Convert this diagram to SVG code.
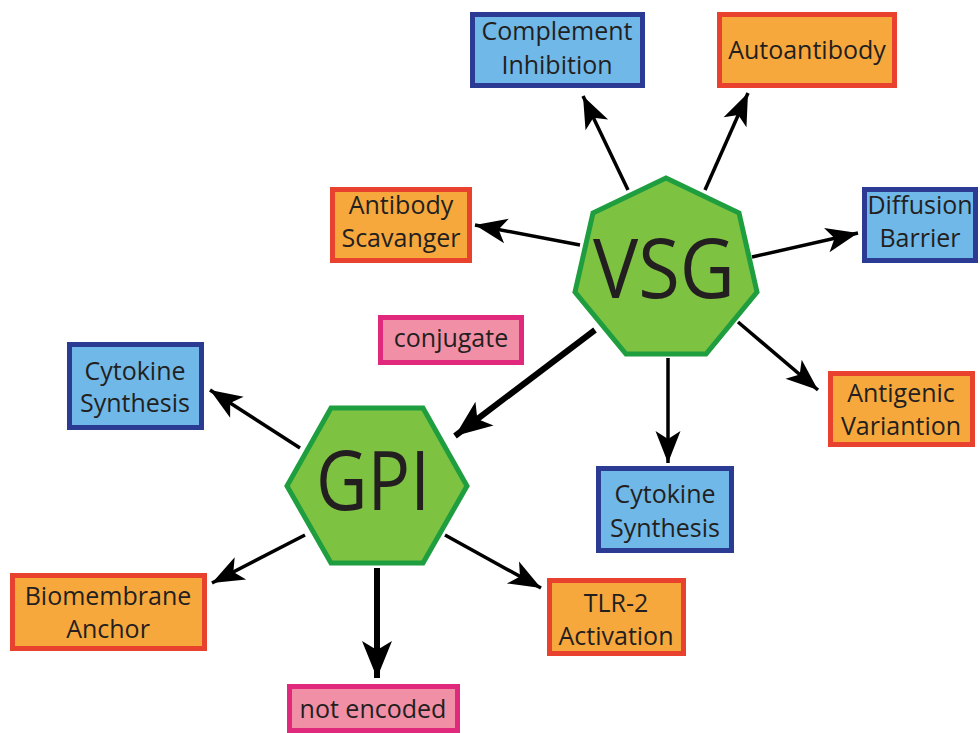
<svg xmlns="http://www.w3.org/2000/svg" width="980" height="733" viewBox="0 0 980 733">
<style>
.bx{stroke-width:5}
.blue{fill:#6fb8e8;stroke:#2b3a93}
.org{fill:#f7a83c;stroke:#e8422f}
.pink{fill:#f08fa5;stroke:#e0297d}
.poly{fill:#7ec242;stroke:#1f9e3f;stroke-width:5;stroke-linejoin:miter}
text{font-family:"Open Sans","Liberation Sans",sans-serif;fill:#231f20;text-anchor:middle}
.t{font-size:25px}
.big{font-size:82px}
.ln{stroke:#000;fill:none;stroke-width:3.5}
.thick{stroke-width:6}
</style>
<defs>
<marker id="ah" markerUnits="userSpaceOnUse" viewBox="-34 -14 36 28" refX="0" refY="0" markerWidth="36" markerHeight="28" orient="auto" overflow="visible">
<path d="M0,0 L-32,-12.5 L-24,0 L-32,12.5 Z" fill="#000"/>
</marker>
<marker id="ahb" markerUnits="userSpaceOnUse" viewBox="-40 -17 42 34" refX="0" refY="0" markerWidth="42" markerHeight="34" orient="auto" overflow="visible">
<path d="M0,0 L-37,-15 L-28,0 L-37,15 Z" fill="#000"/>
</marker>
</defs>
<g id="connectors">
<line class="ln" x1="628" y1="190" x2="583" y2="96" marker-end="url(#ah)"/>
<line class="ln" x1="705" y1="190" x2="748" y2="93" marker-end="url(#ah)"/>
<line class="ln" x1="580" y1="245" x2="475" y2="225" marker-end="url(#ah)"/>
<line class="ln" x1="752" y1="257" x2="858" y2="233" marker-end="url(#ah)"/>
<line class="ln" x1="738" y1="322" x2="818" y2="390" marker-end="url(#ah)"/>
<line class="ln" x1="668" y1="358" x2="668" y2="463" marker-end="url(#ah)"/>
<line class="ln thick" x1="595" y1="330" x2="455" y2="436" marker-end="url(#ahb)"/>
<line class="ln" x1="300" y1="448" x2="210" y2="390" marker-end="url(#ah)"/>
<line class="ln" x1="305" y1="535" x2="212" y2="583" marker-end="url(#ah)"/>
<line class="ln thick" x1="377" y1="568" x2="377" y2="678" marker-end="url(#ahb)"/>
<line class="ln" x1="445" y1="535" x2="541" y2="588" marker-end="url(#ah)"/>
</g>
<g id="vsg">
<polygon class="poly" points="666,178 739,213 757,292 706,354 626,354 575,292 593,213"/>
<text class="big" x="664" y="298" font-size="80" textLength="142" lengthAdjust="spacingAndGlyphs">VSG</text>
</g>
<g id="gpi">
<polygon class="poly" points="331,408 423,408 467,486 423,563 331,563 287,486"/>
<text class="big" x="373" y="510" textLength="114" lengthAdjust="spacingAndGlyphs">GPI</text>
</g>
<g id="complement">
<rect class="bx blue" x="472.5" y="14.5" width="170" height="71"/>
<text class="t" x="557" y="40">Complement</text>
<text class="t" x="557" y="74">Inhibition</text>
</g>
<g id="autoantibody">
<rect class="bx org" x="719.5" y="14.5" width="175" height="71"/>
<text class="t" x="807" y="59">Autoantibody</text>
</g>
<g id="scavanger">
<rect class="bx org" x="332.5" y="189.5" width="137" height="71"/>
<text class="t" x="401" y="214">Antibody</text>
<text class="t" x="401" y="247">Scavanger</text>
</g>
<g id="diffusion">
<rect class="bx blue" x="864.5" y="189.5" width="111" height="71"/>
<text class="t" x="920" y="214">Diffusion</text>
<text class="t" x="920" y="247">Barrier</text>
</g>
<g id="antigenic">
<rect class="bx org" x="830.5" y="373.5" width="142" height="71"/>
<text class="t" x="901" y="402">Antigenic</text>
<text class="t" x="901" y="435">Variantion</text>
</g>
<g id="conjugate">
<rect class="bx pink" x="380.5" y="317.5" width="141" height="45"/>
<text class="t" x="451" y="347">conjugate</text>
</g>
<g id="cytokine-left">
<rect class="bx blue" x="69.5" y="344.5" width="132" height="83"/>
<text class="t" x="135" y="380">Cytokine</text>
<text class="t" x="135" y="412">Synthesis</text>
</g>
<g id="cytokine-right">
<rect class="bx blue" x="598.5" y="468.5" width="133" height="82"/>
<text class="t" x="665" y="503">Cytokine</text>
<text class="t" x="665" y="537">Synthesis</text>
</g>
<g id="tlr2">
<rect class="bx org" x="549.5" y="580.5" width="134" height="73"/>
<text class="t" x="616" y="612">TLR-2</text>
<text class="t" x="616" y="645">Activation</text>
</g>
<g id="biomembrane">
<rect class="bx org" x="12.5" y="575.5" width="192" height="73"/>
<text class="t" x="108" y="605">Biomembrane</text>
<text class="t" x="108" y="638">Anchor</text>
</g>
<g id="notencoded">
<rect class="bx pink" x="289.5" y="686.5" width="168" height="44"/>
<text class="t" x="373" y="718">not encoded</text>
</g>
</svg>
